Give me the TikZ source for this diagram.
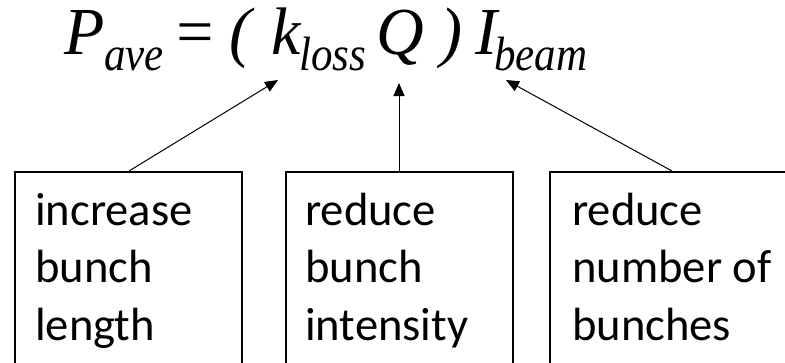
\documentclass[tikz,border=0pt]{standalone}
\usepackage{fontspec}
\usepackage{graphicx}
\setmainfont{Carlito}
\newfontfamily\eqfont{Liberation Serif}
\usetikzlibrary{arrows.meta,calc}
\newcommand{\mainglyph}[1]{\scalebox{1.1}[1.12]{#1}}
\newcommand{\subglyph}[1]{\scalebox{1}[1.12]{#1}}
\tikzset{
  box/.style={draw, line width=1.5pt, rectangle, inner sep=0pt, minimum height=260pt, anchor=north west},
  boxtext/.style={anchor=north west, inner sep=0pt, align=left, font=\fontsize{46.6}{57.5}\selectfont},
  eqmain/.style={anchor=base west, inner sep=0pt, font=\eqfont\itshape\fontsize{60}{60}\selectfont},
  eqsub/.style={anchor=base west, inner sep=0pt, font=\eqfont\itshape\fontsize{43}{43}\selectfont},
  arr/.style={line width=1pt, -{Triangle[length=13pt,width=11pt]}}
}
\begin{document}
\begin{tikzpicture}[x=1pt,y=-1pt]
\useasboundingbox (0,0) rectangle (785,362);
\clip (0,0) rectangle (785,362);
% equation
\node[eqmain] (P) at (64,54) {\mainglyph{P}};
\node[eqsub] (ave) at (104,70) {\subglyph{ave}};
\node[eqmain] (eq) at (172,54) {\mainglyph{=}};
\node[eqmain] (lp) at (229,54) {\mainglyph{(}};
\node[eqmain] (k) at (271,54) {\mainglyph{k}};
\node[eqsub] (loss) at (299,70) {\subglyph{loss}};
\node[eqmain] (Q) at (376,54) {\mainglyph{Q}};
\node[eqmain] (rp) at (440,54) {\mainglyph{)}};
\node[eqmain] (I) at (475,54) {\mainglyph{I}};
\node[eqsub] (beam) at (494,70) {\subglyph{beam}};
% boxes
\node[box, minimum width=227pt] (b1) at (14,171) {};
\node[box, minimum width=227pt] (b2) at (285,171) {};
\node[box, minimum width=280pt] (b3) at (549,171) {};
\node[boxtext] (t1) at (35,184.75) {\strut increase\\bunch\\length};
\node[boxtext] (t2) at (305,184.75) {\strut reduce\\bunch\\intensity};
\node[boxtext] (t3) at (572,184.75) {\strut reduce\\number of\\bunches};
% arrow tips
\coordinate (a1) at (278,80);
\coordinate (a2) at (399,83);
\coordinate (a3) at (506,80);
\draw[arr] ($(b1.north west)+(115,0)$) -- (a1);
\draw[arr] ($(b2.north west)+(114,0)$) -- (a2);
\draw[arr] ($(b3.north west)+(123,0)$) -- (a3);
\end{tikzpicture}
\end{document}
